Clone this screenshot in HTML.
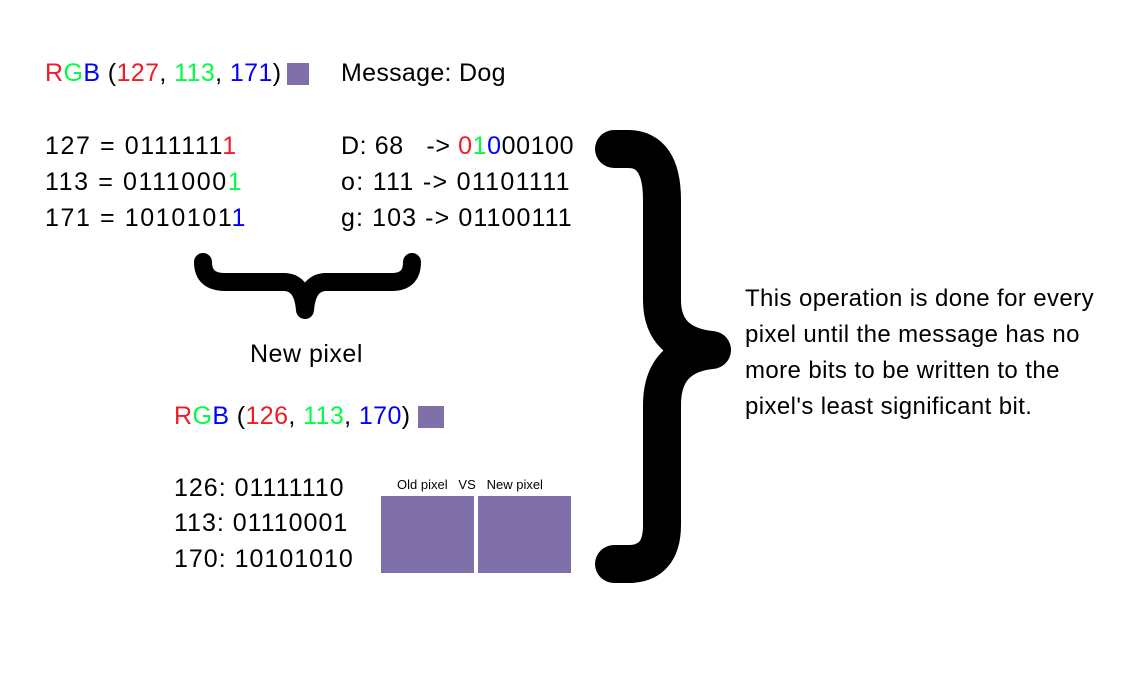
<!DOCTYPE html>
<html><head><meta charset="utf-8"><style>
body{margin:0;width:1141px;height:697px;background:#fff;position:relative;overflow:hidden;font-family:"Liberation Sans",sans-serif;color:#000}
.t{position:absolute;white-space:nowrap;font-size:25px;line-height:1;letter-spacing:1px}
.r{color:#ee1c24}.g{color:#00ff40}.b{color:#0000ff}
.sw{position:absolute;background:#7f70aa}
</style></head><body>
<div class="t" style="left:45px;top:61px;letter-spacing:0.4px"><span class="r">R</span><span class="g">G</span><span class="b">B</span> (<span class="r">127</span>, <span class="g">113</span>, <span class="b">171</span>)</div>
<div class="sw" style="left:287px;top:63px;width:22px;height:22px"></div>
<div class="t" style="left:341px;top:61px;letter-spacing:0.3px">Message: Dog</div>

<div class="t" style="left:45px;top:134px;letter-spacing:1.6px">127 = 0111111<span class="r">1</span></div>
<div class="t" style="left:45px;top:170px;letter-spacing:1.6px">113 = 0111000<span class="g">1</span></div>
<div class="t" style="left:45px;top:206px;letter-spacing:1.6px">171 = 1010101<span class="b">1</span></div>
<div class="t" style="left:341px;top:134px;letter-spacing:0.6px">D: 68 &nbsp; -&gt; <span class="r">0</span><span class="g">1</span><span class="b">0</span>00100</div>
<div class="t" style="left:341px;top:170px;letter-spacing:1.3px">o: 111 -&gt; 01101111</div>
<div class="t" style="left:341px;top:206px;letter-spacing:1.1px">g: 103 -&gt; 01100111</div>

<svg style="position:absolute;left:0;top:0" width="1141" height="697">
<path d="M203,262 Q203,282 225,282 L285,282 Q303,283 305,310 Q307,283 325,282 L392,282 Q412,282 412,262" fill="none" stroke="#000" stroke-width="18" stroke-linecap="round" stroke-linejoin="round"/>
<path d="M614,149 L628,149 Q662,149 662,200 L662,300 Q662,345 712,350 Q662,355 662,405 L662,525 Q662,564 628,564 L614,564" fill="none" stroke="#000" stroke-width="38" stroke-linecap="round" stroke-linejoin="round"/>
</svg>

<div class="t" style="left:250px;top:342px;letter-spacing:0.5px">New pixel</div>
<div class="t" style="left:174px;top:404px;letter-spacing:0.4px"><span class="r">R</span><span class="g">G</span><span class="b">B</span> (<span class="r">126</span>, <span class="g">113</span>, <span class="b">170</span>)</div>
<div class="sw" style="left:418px;top:406px;width:26px;height:22px"></div>

<div class="t" style="left:174px;top:476px">126: 01111110</div>
<div class="t" style="left:174px;top:511px">113: 01110001</div>
<div class="t" style="left:174px;top:547px">170: 10101010</div>

<div class="t" style="left:397px;top:478px;font-size:13px;letter-spacing:0">Old pixel &nbsp;&nbsp;VS &nbsp;&nbsp;New pixel</div>
<div class="sw" style="left:381px;top:496px;width:93px;height:77px"></div>
<div class="sw" style="left:478px;top:496px;width:93px;height:77px"></div>

<div class="t" style="left:745px;top:287px;font-size:24px;letter-spacing:0.4px">This operation is done for every</div>
<div class="t" style="left:745px;top:323px;font-size:24px;letter-spacing:0.4px">pixel until the message has no</div>
<div class="t" style="left:745px;top:359px;font-size:24px;letter-spacing:0.4px">more bits to be written to the</div>
<div class="t" style="left:745px;top:395px;font-size:24px;letter-spacing:0.4px">pixel's least significant bit.</div>
</body></html>
